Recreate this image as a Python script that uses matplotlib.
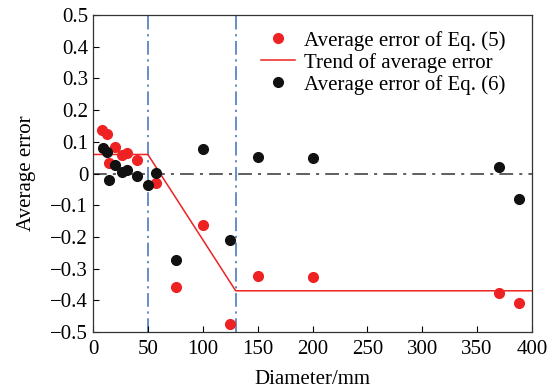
import numpy as np
import matplotlib.pyplot as plt
from matplotlib.ticker import FuncFormatter

plt.rcParams['font.family'] = ['Liberation Serif', 'DejaVu Serif']
plt.rcParams['font.size'] = 12

# Average error of Eq. (5)
d5 = [8, 12.5, 20, 15, 26, 31, 40, 57, 75.6, 100, 125, 150, 200, 370, 388]
e5 = [0.137, 0.125, 0.083, 0.032, 0.059, 0.066, 0.043, -0.031,
      -0.357, -0.161, -0.475, -0.322, -0.326, -0.376, -0.41]

# Average error of Eq. (6)
d6 = [9.5, 12.5, 15, 20, 26, 31, 40, 50, 57, 75.6, 100, 125, 150, 200, 370, 388]
e6 = [0.081, 0.068, -0.02, 0.026, 0.006, 0.011, -0.008, -0.037, 0.003,
      -0.273, 0.077, -0.21, 0.053, 0.048, 0.021, -0.081]

# trend of average error
trend_x = [0, 50, 130, 400]
trend_y = [0.06, 0.06, -0.37, -0.37]

bounds = [50, 130]

fig = plt.figure(figsize=(5.52, 3.92), dpi=100)
ax = fig.add_axes([93/552, 1 - 332/392, (532-93)/552, (332-15)/392])

ax.axhline(0, color='#333333', lw=1.1, ls=(0, (9, 4, 2, 4)), zorder=1)
for b in bounds:
    ax.axvline(b, color='#3f6fb5', lw=1.1, ls=(0, (9, 3, 1.5, 3)), zorder=1)

ax.plot(d5, e5, 'o', color='#ee2222', ms=7, label='Average error of Eq. (5)', zorder=3)
ax.plot(trend_x, trend_y, '-', color='#ee2222', lw=1.1, label='Trend of average error', zorder=2)
ax.plot(d6, e6, 'o', color='#111111', ms=7, label='Average error of Eq. (6)', zorder=3)

ax.set_xlim(0, 400)
ax.set_ylim(-0.5, 0.5)
ax.set_xticks(np.arange(0, 401, 50))
ax.set_yticks(np.arange(-0.5, 0.51, 0.1))
ax.yaxis.set_major_formatter(FuncFormatter(
    lambda v, p: '0' if abs(v) < 1e-9 else ('%.1f' % v).replace('-', '\u2212')))
ax.tick_params(direction='in', length=4, width=0.8, labelsize=15)
ax.tick_params(axis='x', pad=6)
ax.set_xlabel('Diameter/mm', fontsize=15, labelpad=8)
ax.set_ylabel('Average error', fontsize=15, labelpad=10)
for s in ax.spines.values():
    s.set_linewidth(0.9)
    s.set_color('#333333')

ax.legend(loc='upper right', bbox_to_anchor=(0.975, 1.0), frameon=False, fontsize=15,
          handlelength=1.6, handletextpad=0.45, labelspacing=0.1, borderaxespad=0.35)

fig.savefig('out.png', dpi=100)
